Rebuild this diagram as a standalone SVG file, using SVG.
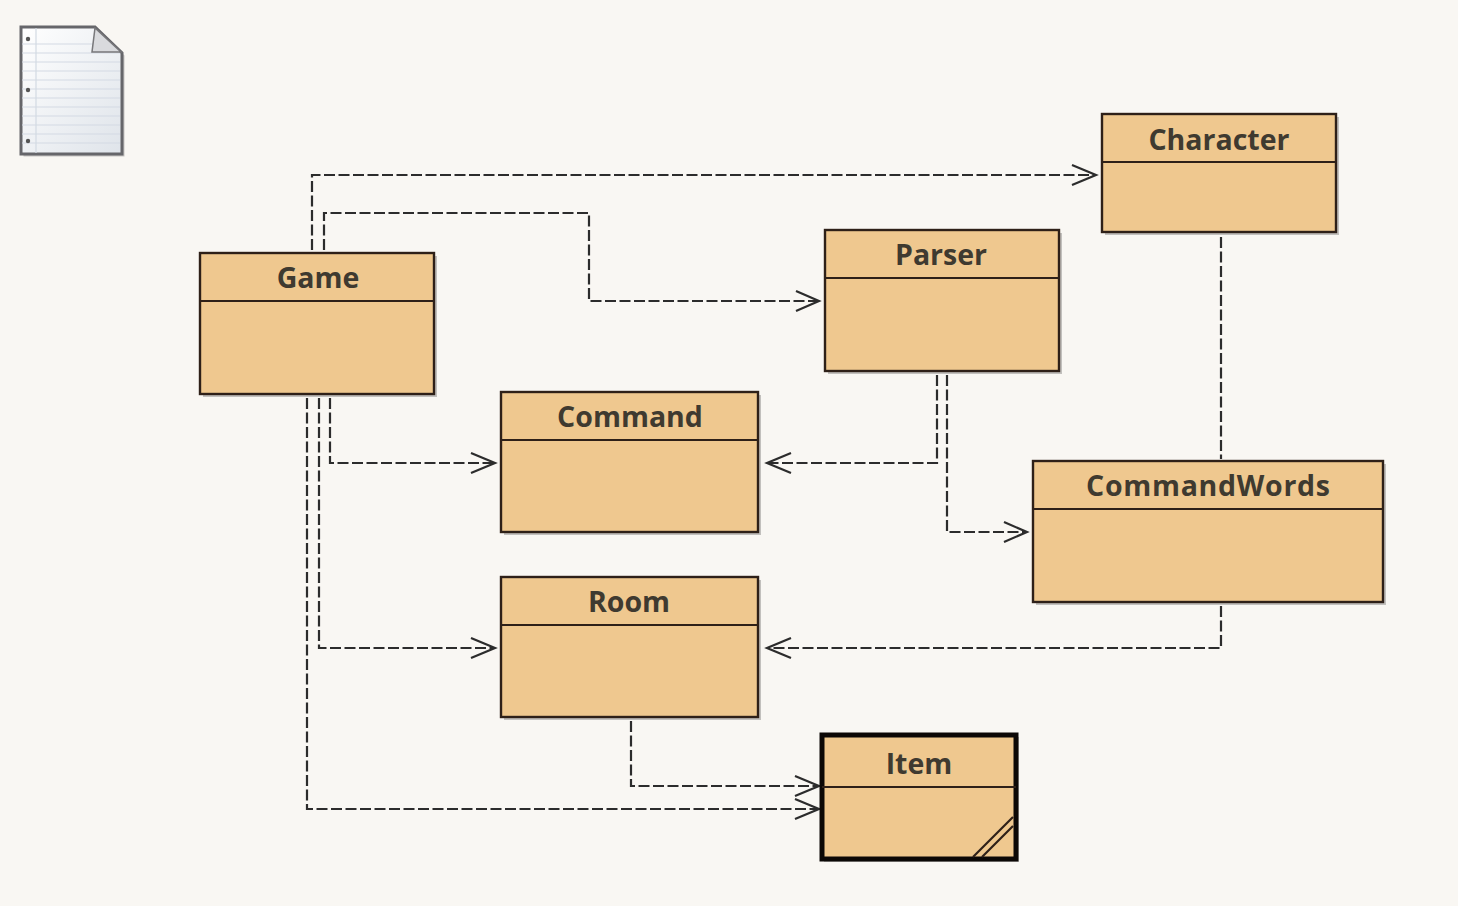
<svg xmlns="http://www.w3.org/2000/svg" width="1458" height="906" viewBox="0 0 1458 906">
<style>
.box{fill:#efc88f;stroke:#2e2018;stroke-width:2.4}
.div{stroke:#2e2018;stroke-width:2.2;fill:none}
.t{font-family:"Open Sans","DejaVu Sans",sans-serif;font-weight:700;font-size:28.5px;fill:#3f3a30;text-anchor:middle}
.c{fill:none;stroke:#2c2c2c;stroke-width:2.2;stroke-dasharray:11 3.5}
.a{fill:none;stroke:#2c2c2c;stroke-width:2.2}
.sh{fill:#000;opacity:.22}
.pl{stroke:#d3dae3;stroke-width:1.2}
</style>
<defs><linearGradient id="pg" x1="0" y1="0" x2="1" y2="1"><stop offset="0" stop-color="#ffffff"/><stop offset="1" stop-color="#dfe4ea"/></linearGradient></defs>
<rect width="1458" height="906" fill="#f9f7f3"/>
<g id="note">
<path d="M21 27H95L122 53V154H21Z" fill="#000" opacity=".2" transform="translate(2.5 2.5)"/>
<path d="M21 27H95L122 53V154H21Z" fill="url(#pg)" stroke="#66666a" stroke-width="3"/>
<g class="pl">
<path d="M22 44H94M22 53H120M22 62H120M22 71H120M22 80H120M22 89H120M22 98H120M22 107H120M22 116H120M22 125H120M22 134H120M22 143H120M36 28V153"/>
</g>
<path d="M95 28L121 52H92Z" fill="#d9dadd" stroke="#77777a" stroke-width="1.5"/>
<circle cx="28" cy="39" r="2.2" fill="#555"/><circle cx="28" cy="90" r="2.2" fill="#555"/><circle cx="28" cy="141" r="2.2" fill="#555"/>
</g>
<g id="connectors">
<path class="c" d="M312 250V175H1095"/><path class="a" d="M1072 165L1096 175L1072 185"/>
<path class="c" d="M324 250V213H589V301H817"/><path class="a" d="M796 291L819 301L796 311"/>
<path class="c" d="M330 398V463H494"/><path class="a" d="M471 453L495 463L471 473"/>
<path class="c" d="M319 398V648H494"/><path class="a" d="M471 638L495 648L471 658"/>
<path class="c" d="M307 398V809H818"/><path class="a" d="M795 799L819 809L795 819"/>
<path class="c" d="M937 375V463H768"/><path class="a" d="M791 453L767 463L791 473"/>
<path class="c" d="M947 375V532H1026"/><path class="a" d="M1004 522L1027 532L1004 542"/>
<path class="c" d="M1221 237V459"/>
<path class="c" d="M1221 606V648H768"/><path class="a" d="M791 638L767 648L791 658"/>
<path class="c" d="M631 721V786H818"/><path class="a" d="M795 776L819 786L795 796"/>
</g>
<g id="character"><rect class="sh" x="1105" y="117" width="234" height="118"/><rect class="box" x="1102" y="114" width="234" height="118"/><path class="div" d="M1102 162H1336"/><text class="t" x="1219" y="150">Character</text></g>
<g id="game"><rect class="sh" x="203" y="256" width="234" height="141"/><rect class="box" x="200" y="253" width="234" height="141"/><path class="div" d="M200 301H434"/><text class="t" x="318" y="288">Game</text></g>
<g id="parser"><rect class="sh" x="828" y="233" width="234" height="141"/><rect class="box" x="825" y="230" width="234" height="141"/><path class="div" d="M825 278H1059"/><text class="t" x="941" y="265">Parser</text></g>
<g id="command"><rect class="sh" x="504" y="395" width="257" height="140"/><rect class="box" x="501" y="392" width="257" height="140"/><path class="div" d="M501 440H758"/><text class="t" x="630" y="427">Command</text></g>
<g id="commandwords"><rect class="sh" x="1036" y="464" width="350" height="141"/><rect class="box" x="1033" y="461" width="350" height="141"/><path class="div" d="M1033 509H1383"/><text class="t" x="1208" y="496" textLength="244" lengthAdjust="spacing">CommandWords</text></g>
<g id="room"><rect class="sh" x="504" y="580" width="257" height="140"/><rect class="box" x="501" y="577" width="257" height="140"/><path class="div" d="M501 625H758"/><text class="t" x="629" y="612">Room</text></g>
<g id="item"><rect class="sh" x="824" y="737" width="195" height="125"/><rect x="822" y="735" width="194" height="124" fill="#efc88f" stroke="#0c0806" stroke-width="5"/><path class="div" d="M822 787H1016M973 857L1013 817M982 857L1013 826"/><text class="t" x="919" y="774">Item</text></g>
</svg>
